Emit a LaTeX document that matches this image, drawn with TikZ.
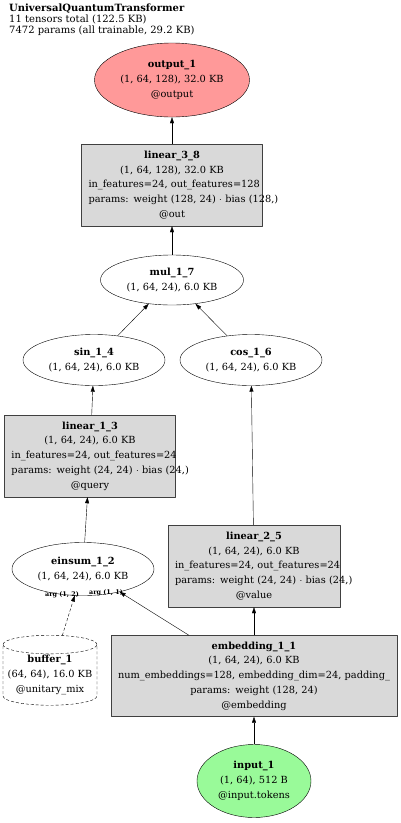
\documentclass[tikz,border=0pt]{standalone}
\usepackage{fontspec}
\setmainfont{DejaVu Serif}
\usetikzlibrary{shapes.geometric,arrows.meta}
\definecolor{outred}{RGB}{255,153,153}
\definecolor{ingreen}{RGB}{153,250,153}
\definecolor{modgray}{RGB}{217,217,217}

\begin{document}
\begin{tikzpicture}[x=1pt,y=-1pt,line join=round,
  every node/.style={font=\fontsize{9.8}{14.8}\selectfont},
  tensor/.style={ellipse,draw,inner sep=0pt,align=center},
  module/.style={rectangle,draw=black!75,fill=modgray,inner sep=0pt,align=center},
  buffernode/.style={cylinder,shape border rotate=90,aspect=0.22,draw,
    dash pattern=on 3pt off 2pt,inner sep=0pt,align=center},
  flow/.style={-{Triangle[length=6pt,width=4pt]}},
  arglabel/.style={font=\bfseries\fontsize{6.4}{7}\selectfont,inner sep=0pt}]
  \useasboundingbox (0,0) rectangle (400,823);

  % header
  \node[anchor=north west,align=left,inner sep=0pt,
    font=\fontsize{10}{11}\selectfont] (title) at (9,4)
    {\textbf{UniversalQuantumTransformer}\\11 tensors total (122.5 KB)\\7472 params (all trainable, 29.2 KB)};

  % tensors and modules
  \node[tensor,fill=outred,minimum width=155,minimum height=74] (out) at (172,80)
    {\textbf{output\_1}\\(1, 64, 128), 32.0 KB\\@output};
  \node[module,minimum width=181,minimum height=82,text width=167] (lin38) at (172,185)
    {\textbf{linear\_3\_8}\\(1, 64, 128), 32.0 KB\\\mbox{in\_features=24, out\_features=128}\\\mbox{params: weight (128, 24) $\cdot$ bias (128,)}\\@out};
  \node[tensor,minimum width=143,minimum height=50] (mul) at (172,280)
    {\textbf{mul\_1\_7}\\(1, 64, 24), 6.0 KB};
  \node[tensor,minimum width=142,minimum height=51] (sin) at (94,360)
    {\textbf{sin\_1\_4}\\(1, 64, 24), 6.0 KB};
  \node[tensor,minimum width=142,minimum height=51] (cos) at (251,360)
    {\textbf{cos\_1\_6}\\(1, 64, 24), 6.0 KB};
  \node[module,minimum width=171,minimum height=82,text width=157] (lin13) at (90,456)
    {\textbf{linear\_1\_3}\\(1, 64, 24), 6.0 KB\\\mbox{in\_features=24, out\_features=24}\\\mbox{params: weight (24, 24) $\cdot$ bias (24,)}\\@query};
  \node[tensor,minimum width=142,minimum height=53] (einsum) at (83,569)
    {\textbf{einsum\_1\_2}\\(1, 64, 24), 6.0 KB};
  \node[module,minimum width=172,minimum height=82,text width=158] (lin25) at (254,566)
    {\textbf{linear\_2\_5}\\(1, 64, 24), 6.0 KB\\\mbox{in\_features=24, out\_features=24}\\\mbox{params: weight (24, 24) $\cdot$ bias (24,)}\\@value};
  \node[buffernode,minimum width=94,minimum height=70] (buf) at (50,675)
    {\textbf{buffer\_1}\\(64, 64), 16.0 KB\\@unitary\_mix};
  \node[module,minimum width=286,minimum height=81,text width=272] (emb) at (254,676)
    {\textbf{embedding\_1\_1}\\(1, 64, 24), 6.0 KB\\\mbox{num\_embeddings=128, embedding\_dim=24, padding\_}\\params: weight (128, 24)\\@embedding};
  \node[tensor,fill=ingreen,minimum width=114,minimum height=73] (inp) at (254,781)
    {\textbf{input\_1}\\(1, 64), 512 B\\@input.tokens};

  % connectors
  \draw[flow] (lin38) -- (out);
  \draw[flow] (mul) -- (lin38);
  \draw[flow] (sin) -- (mul);
  \draw[flow] (cos) -- (mul);
  \draw[flow] (lin13) -- (sin);
  \draw[flow] (lin25) -- (cos);
  \draw[flow] (einsum) -- (lin13);
  \draw[flow] (emb) -- (lin25);
  \draw[flow] (emb) -- (einsum);
  \draw[flow,dash pattern=on 3pt off 2pt] (buf) -- (einsum);
  \draw[flow] (inp) -- (emb);

  \node[arglabel] (arg2) at (62,595) {arg (1, 2)};
  \node[arglabel] (arg1) at (106,593) {arg (1, 1)};
\end{tikzpicture}
\end{document}
